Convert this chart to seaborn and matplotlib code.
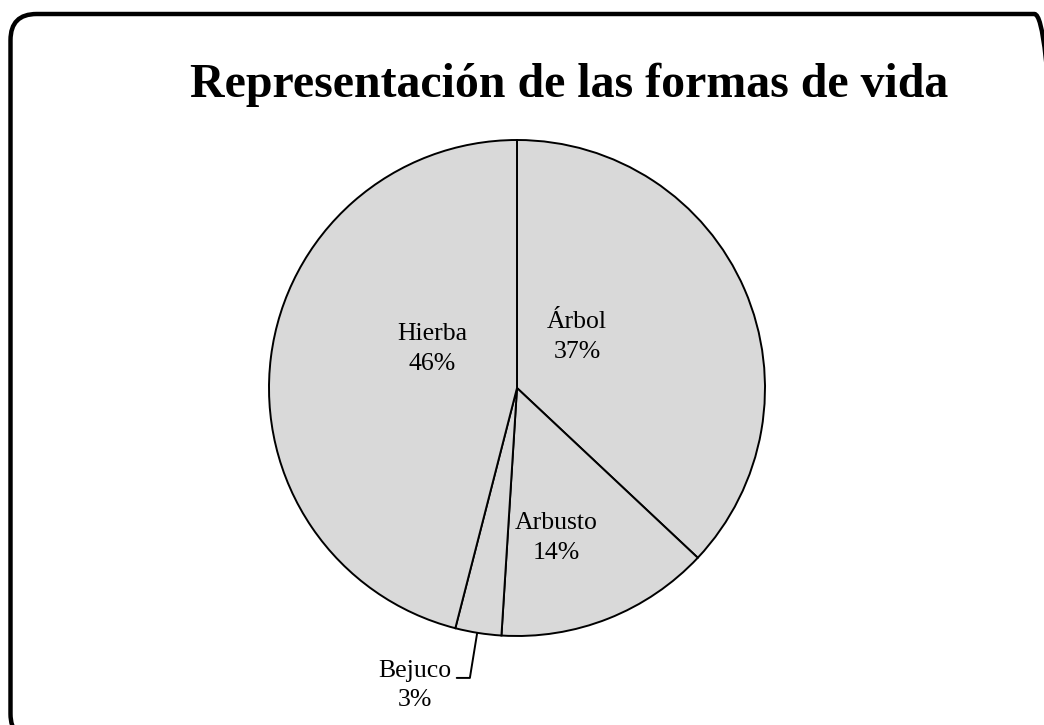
import matplotlib
matplotlib.use('Agg')
import matplotlib.pyplot as plt
import seaborn as sns
from matplotlib.patches import FancyBboxPatch

categorias = ['Árbol', 'Arbusto', 'Bejuco', 'Hierba']
porcentajes = [37, 14, 3, 46]

sns.set_theme(style='white')
plt.rcParams['font.family'] = ['Liberation Serif', 'DejaVu Serif']
plt.rcParams['text.color'] = 'black'

fig = plt.figure(figsize=(10.44, 7.25), dpi=100)

# marco redondeado (recortado por la derecha y abajo)
marco = FancyBboxPatch((10.5 / 1044, -15 / 725), 1050 / 1044, 726 / 725,
                       boxstyle='round,pad=0,rounding_size=0.025',
                       transform=fig.transFigure, fill=False,
                       edgecolor='black', linewidth=3.2, mutation_aspect=1044 / 725)
fig.patches.append(marco)

ax = fig.add_axes([(517 - 248) / 1044, (725 - 388 - 248) / 725, 496 / 1044, 496 / 725])
ax.pie(porcentajes, startangle=90, counterclock=False, colors=['#d9d9d9'] * 4,
       wedgeprops={'edgecolor': 'black', 'linewidth': 1.4}, radius=1)
ax.set_xlim(-1, 1)
ax.set_ylim(-1, 1)
ax.set_aspect('equal')

pos = {'Árbol': (0.242, 0.206), 'Arbusto': (0.157, -0.605),
       'Bejuco': (-0.411, -1.20), 'Hierba': (-0.343, 0.157)}
for cat, p in zip(categorias, porcentajes):
    x, y = pos[cat]
    ax.text(x, y, f'{cat}\n{p}%', ha='center', va='center', fontsize=18.5,
            linespacing=1.45, color='black', clip_on=False)

# linea guia de Bejuco
ax.plot([-0.161, -0.190, -0.243], [-0.99, -1.169, -1.169], color='black',
        linewidth=1.4, clip_on=False)

fig.text(0.545, 0.883, 'Representación de las formas de vida', ha='center', va='center',
         fontsize=34.5, fontweight='bold', color='black')

fig.savefig('out.png', dpi=100)
